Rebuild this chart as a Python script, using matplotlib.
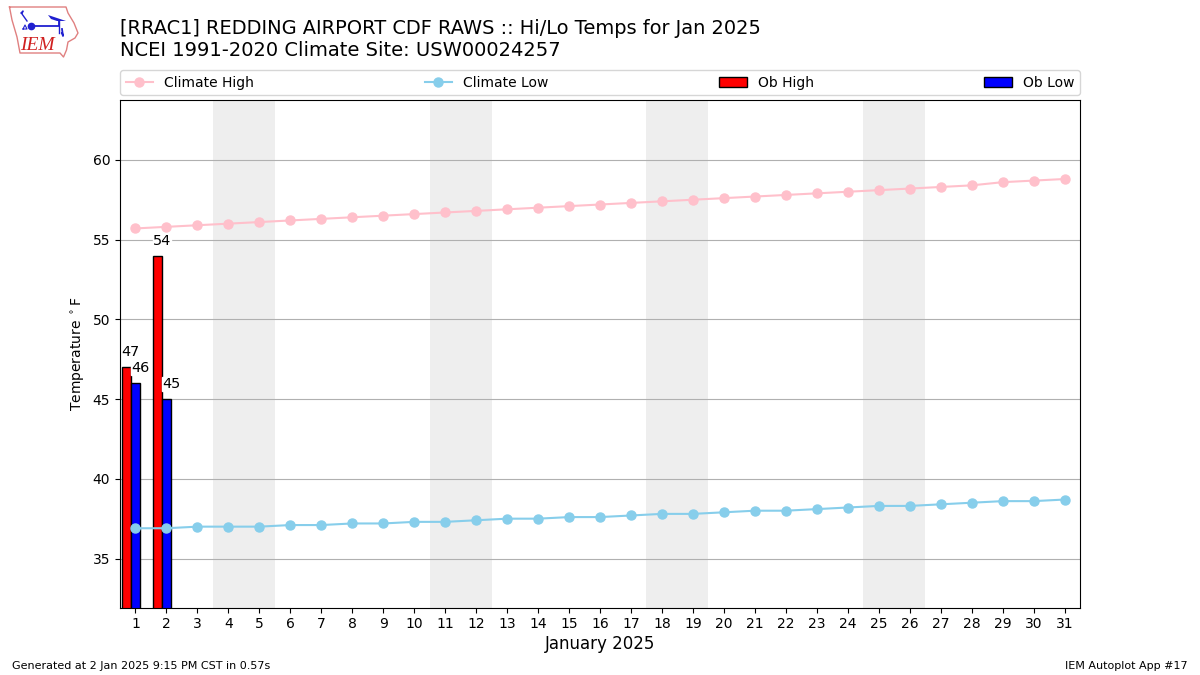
import matplotlib
matplotlib.use("Agg")
import matplotlib.pyplot as plt

# Jan 2025 hi/lo temps, climate from NCEI 1991-2020
days = list(range(1, 32))
climate_high = [55.7, 55.8, 55.9, 56.0, 56.1, 56.2, 56.3, 56.4, 56.5, 56.6, 56.7,
                56.8, 56.9, 57.0, 57.1, 57.2, 57.3, 57.4, 57.5, 57.6, 57.7, 57.8,
                57.9, 58.0, 58.1, 58.2, 58.3, 58.4, 58.6, 58.7, 58.8]
climate_low = [36.9, 36.9, 37.0, 37.0, 37.0, 37.1, 37.1, 37.2, 37.2, 37.3, 37.3,
               37.4, 37.5, 37.5, 37.6, 37.6, 37.7, 37.8, 37.8, 37.9, 38.0, 38.0,
               38.1, 38.2, 38.3, 38.3, 38.4, 38.5, 38.6, 38.6, 38.7]
ob_days = [1, 2]
ob_high = [47, 54]
ob_low = [46, 45]
weekends = [4, 11, 18, 25]

# logo pieces, pixel coords of the 1200x675 image
iowa_x = [9.5, 66, 68, 74, 78, 75, 68, 66.5, 63.5, 60, 20, 17, 12, 9.5]
iowa_y = [7, 7, 13, 23, 33, 38, 42, 50, 57, 53, 53, 37, 20, 7]
wing_x = [48, 54, 66, 57, 51, 48]
wing_y = [15, 17, 21, 21, 19, 15]
wire_x = [31, 59, 59]
wire_y = [26, 26, 21]
mast_x = [59, 59]
mast_y = [21, 33]
fan_x = [62, 63, 62]
fan_y = [29, 36, 33]
hook_x = [21, 23, 22, 27]
hook_y = [13, 11, 14, 21]
base_x = [23, 25, 27, 23]
base_y = [29, 25, 29, 29]

fig = plt.figure(figsize=(12, 6.75), dpi=100)
ax = fig.add_axes([0.1, 0.1, 0.8, 0.752])

for start in weekends:
    ax.axvspan(start - 0.5, start + 1.5, color="#EEEEEE", lw=0, zorder=0)

ax.plot(days, climate_high, color="pink", marker="o", ms=6.5, label="Climate High", zorder=3)
ax.plot(days, climate_low, color="skyblue", marker="o", ms=6.5, label="Climate Low", zorder=3)

xs = [d - 0.3 for d in ob_days]
ax.bar(xs, ob_high, width=0.3, color="r", edgecolor="k", label="Ob High", zorder=2)
ax.bar(ob_days, ob_low, width=0.3, color="b", edgecolor="k", label="Ob Low", zorder=2)

for d, hi, lo in zip(ob_days, ob_high, ob_low):
    ax.text(d - 0.45, hi + 0.5, str(hi), ha="left", va="bottom", fontsize=10.4,
            bbox=dict(color="white", pad=0), zorder=4)
    ax.text(d - 0.15, lo + 0.5, str(lo), ha="left", va="bottom", fontsize=10.4,
            bbox=dict(color="white", pad=0), zorder=4)

ax.set_xlim(0.5, 31.5)
ax.set_ylim(31.93, 63.76)
ax.set_xticks(days)
ax.set_yticks([35, 40, 45, 50, 55, 60])
ax.grid(True, axis="y")
ax.set_axisbelow(True)
ax.set_xlabel("January 2025", fontsize=12, labelpad=3)
ax.set_ylabel(r"Temperature $^\circ$F")

ax.legend(loc="lower left", bbox_to_anchor=(0, 1.0095, 1, 0.06), ncol=4, mode="expand",
          borderaxespad=0, fontsize=10)

fig.text(120 / 1200, 1 - 29 / 675, "[RRAC1] REDDING AIRPORT CDF RAWS :: Hi/Lo Temps for Jan 2025",
         fontsize=13.98, va="center")
fig.text(120 / 1200, 1 - 51 / 675, "NCEI 1991-2020 Climate Site: USW00024257",
         fontsize=14, va="center")
fig.text(12 / 1200, 1 - 666 / 675, "Generated at 2 Jan 2025 9:15 PM CST in 0.57s", fontsize=8, va="center")
fig.text(1188 / 1200, 1 - 666 / 675, "IEM Autoplot App #17", fontsize=8, va="center", ha="right")

# logo
logo = fig.add_axes([0, 1 - 65 / 675, 90 / 1200, 65 / 675])
logo.set_xlim(0, 90)
logo.set_ylim(65, 0)
logo.axis("off")
logo.plot(iowa_x, iowa_y, color="#e08080", lw=1)
logo.fill(wing_x, wing_y, color="#2020d0", lw=0)
logo.plot(wire_x, wire_y, color="#2020d0", lw=1.3)
logo.plot(mast_x, mast_y, color="#2020d0", lw=1)
logo.plot(fan_x, fan_y, color="#2020d0", lw=1.3)
logo.plot(hook_x, hook_y, color="#2020d0", lw=1)
logo.plot(base_x, base_y, color="#2020d0", lw=0.8)
logo.plot([31], [26], color="#2020d0", marker="o", ms=4.5)
logo.text(37.5, 45, "IEM", color="#d02020", family="Liberation Serif", style="italic",
          fontsize=14, ha="center", va="center")

fig.savefig("out.png", dpi=100)
